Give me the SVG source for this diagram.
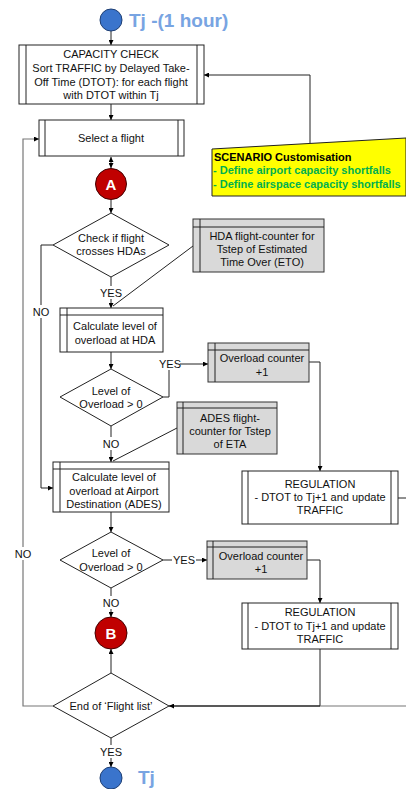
<svg xmlns="http://www.w3.org/2000/svg" width="406" height="789" viewBox="0 0 406 789">
<defs>
<marker id="ah" viewBox="0 0 8 8" refX="8" refY="4" markerWidth="5" markerHeight="5" orient="auto-start-reverse" markerUnits="userSpaceOnUse"><path d="M0,0 L8,4 L0,8 z" fill="#000"/></marker>
<style>
.t{font-family:"Liberation Sans",Arial,sans-serif;font-size:11px;fill:#111;text-anchor:middle}
.box{fill:#fff;stroke:#222;stroke-width:1}
.gbox{fill:#d9d9d9;stroke:#333;stroke-width:1}
.ln{fill:none;stroke:#222;stroke-width:1}
.gl{fill:none;stroke:#777;stroke-width:1.2}
.dia{fill:#fff;stroke:#222;stroke-width:1}
.lbl{font-family:"Liberation Sans",Arial,sans-serif;font-size:11px;fill:#111;text-anchor:middle}
</style>
</defs>
<rect width="406" height="789" fill="#fff"/>

<g id="connectors">
<path class="ln" d="M111,31 V45" marker-end="url(#ah)"/>
<path class="ln" d="M111,104 V120" marker-end="url(#ah)"/>
<path class="ln" d="M111,157 V168" marker-start="url(#ah)" marker-end="url(#ah)"/>
<path class="ln" d="M111,200 V213" marker-end="url(#ah)"/>
<path class="ln" d="M111,277 V308" marker-end="url(#ah)"/>
<path class="ln" d="M193,246 L113,306"/>
<path class="ln" d="M111,352 V369" marker-end="url(#ah)"/>
<path class="ln" d="M163,397 H169 V370"/>
<path class="ln" d="M180,364 H208" marker-end="url(#ah)"/>
<path class="ln" d="M309,362 H320 V471" marker-end="url(#ah)"/>
<path class="ln" d="M111,426 V462" marker-end="url(#ah)"/>
<path class="ln" d="M177,428 L113,461"/>
<path class="ln" d="M53,245 H41 V488 H53" marker-end="url(#ah)"/>
<path class="ln" d="M111,512 V532" marker-end="url(#ah)"/>
<path class="ln" d="M163,560 H172"/>
<path class="ln" d="M196,560 H207" marker-end="url(#ah)"/>
<path class="ln" d="M307,560 H320 V603" marker-end="url(#ah)"/>
<path class="ln" d="M398,498 H406"/>
<path class="ln" d="M111,588 V617" marker-end="url(#ah)"/>
<path class="ln" d="M111,673 V649" marker-end="url(#ah)"/>
<path class="ln" d="M320,649 V706"/>
<path class="gl" d="M406,706 H320"/>
<path style="fill:none;stroke:#222;stroke-width:1.4" d="M320,706 H169" marker-end="url(#ah)"/>
<path class="gl" d="M53,706 H23 V139 H39" marker-end="url(#ah)"/>
<path class="ln" d="M111,738 V767" marker-end="url(#ah)"/>
<path class="ln" d="M310,143 V75 H204" marker-end="url(#ah)"/>
<rect x="162" y="357" width="16" height="13" fill="#fff"/>
<text class="lbl" x="170" y="368">YES</text>
<rect x="172" y="553" width="24" height="13" fill="#fff"/>
<text class="lbl" x="184" y="564">YES</text>
<rect x="100" y="286" width="22" height="13" fill="#fff"/>
<text class="lbl" x="111" y="297">YES</text>
<rect x="102" y="437" width="18" height="13" fill="#fff"/>
<text class="lbl" x="111" y="448">NO</text>
<rect x="102" y="596" width="18" height="13" fill="#fff"/>
<text class="lbl" x="111" y="607">NO</text>
<rect x="100" y="745" width="22" height="13" fill="#fff"/>
<text class="lbl" x="111" y="756">YES</text>
<rect x="32" y="305" width="18" height="13" fill="#fff"/>
<text class="lbl" x="41" y="316">NO</text>
<rect x="14" y="547" width="18" height="13" fill="#fff"/>
<text class="lbl" x="23" y="558">NO</text>
</g>

<g id="start">
<circle cx="111" cy="20" r="11" fill="#3a74cc" stroke="#1f3f73" stroke-width="1"/>
<text x="129" y="27" style="font-family:'Liberation Sans',Arial,sans-serif;font-size:19px;font-weight:bold;fill:#78a4e2">Tj -(1 hour)</text>
</g>

<g id="capacity-check">
<rect class="box" x="19" y="45" width="185" height="59"/>
<path class="ln" d="M26,45 V104 M197,45 V104"/>
<text class="t" x="111" y="58">CAPACITY CHECK</text>
<text class="t" x="111" y="72">Sort TRAFFIC by Delayed Take-</text>
<text class="t" x="111" y="86">Off Time (DTOT): for each flight</text>
<text class="t" x="111" y="99">with DTOT within Tj</text>
</g>

<g id="scenario">
<path d="M212,149 L406,138 V196 H212 Z" fill="#ffff00" stroke="#222" stroke-width="1"/>
<text x="214" y="161" style="font-family:'Liberation Sans',Arial,sans-serif;font-size:11px;font-weight:bold;fill:#000">SCENARIO Customisation</text>
<text x="213" y="174" style="font-family:'Liberation Sans',Arial,sans-serif;font-size:11px;font-weight:bold;fill:#00b050">- Define airport capacity shortfalls</text>
<text x="213" y="188" style="font-family:'Liberation Sans',Arial,sans-serif;font-size:11px;font-weight:bold;fill:#00b050">- Define airspace capacity shortfalls</text>
</g>

<g id="select-flight">
<rect class="box" x="39" y="120" width="145" height="36"/>
<path class="ln" d="M45,120 V156 M178,120 V156"/>
<text class="t" x="111" y="142">Select a flight</text>
</g>

<g id="connector-a">
<circle cx="111" cy="184" r="15.5" fill="#c00000" stroke="#400" stroke-width="1"/>
<text x="111" y="190" style="font-family:'Liberation Sans',Arial,sans-serif;font-size:15px;font-weight:bold;fill:#fff;text-anchor:middle">A</text>
</g>

<g id="check-hda">
<path class="dia" d="M111,213 L169,245 L111,277 L53,245 Z"/>
<text class="t" x="111" y="242">Check if flight</text>
<text class="t" x="111" y="255">crosses HDAs</text>
</g>

<g id="hda-counter">
<rect class="gbox" x="193" y="219" width="131" height="53"/>
<path class="ln" d="M193,227 H324 M200,219 V272"/>
<text class="t" x="262" y="240">HDA flight-counter for</text>
<text class="t" x="262" y="253">Tstep of Estimated</text>
<text class="t" x="262" y="266">Time Over (ETO)</text>
</g>

<g id="calc-hda">
<rect class="box" x="60" y="308" width="103" height="44"/>
<path class="ln" d="M60,315 H163 M67,308 V352"/>
<text class="t" x="115" y="330">Calculate level of</text>
<text class="t" x="115" y="344">overload at HDA</text>
</g>

<g id="overload-hda">
<path class="dia" d="M111,369 L163,397 L111,426 L60,397 Z"/>
<text class="t" x="111" y="395">Level of</text>
<text class="t" x="111" y="408">Overload &gt; 0</text>
</g>

<g id="overload-counter-1">
<rect class="gbox" x="208" y="343" width="101" height="39"/>
<path class="ln" d="M208,350 H309 M215,343 V382"/>
<text class="t" x="262" y="362">Overload counter</text>
<text class="t" x="262" y="376">+1</text>
</g>

<g id="ades-counter">
<rect class="gbox" x="177" y="402" width="100" height="52"/>
<path class="ln" d="M177,408 H277 M183,402 V454"/>
<text class="t" x="230" y="422">ADES flight-</text>
<text class="t" x="230" y="435">counter for Tstep</text>
<text class="t" x="230" y="448">of ETA</text>
</g>

<g id="calc-ades">
<rect class="box" x="53" y="462" width="116" height="50"/>
<path class="ln" d="M53,469 H169 M60,462 V512"/>
<text class="t" x="114" y="481">Calculate level of</text>
<text class="t" x="114" y="495">overload at Airport</text>
<text class="t" x="114" y="508">Destination (ADES)</text>
</g>

<g id="regulation-1">
<rect class="box" x="242" y="471" width="156" height="53"/>
<path class="ln" d="M248,471 V524 M391,471 V524"/>
<text class="t" x="320" y="488">REGULATION</text>
<text class="t" x="320" y="501">- DTOT to Tj+1 and update</text>
<text class="t" x="320" y="514">TRAFFIC</text>
</g>

<g id="overload-ades">
<path class="dia" d="M111,532 L163,560 L111,588 L60,560 Z"/>
<text class="t" x="111" y="557">Level of</text>
<text class="t" x="111" y="571">Overload &gt; 0</text>
</g>

<g id="overload-counter-2">
<rect class="gbox" x="207" y="541" width="100" height="38"/>
<path class="ln" d="M207,547 H307 M213,541 V579"/>
<text class="t" x="261" y="560">Overload counter</text>
<text class="t" x="261" y="573">+1</text>
</g>

<g id="regulation-2">
<rect class="box" x="242" y="603" width="156" height="46"/>
<path class="ln" d="M248,603 V649 M391,603 V649"/>
<text class="t" x="320" y="616">REGULATION</text>
<text class="t" x="320" y="630">- DTOT to Tj+1 and update</text>
<text class="t" x="320" y="643">TRAFFIC</text>
</g>

<g id="connector-b">
<circle cx="111" cy="633" r="16" fill="#c00000" stroke="#400" stroke-width="1"/>
<text x="111" y="639" style="font-family:'Liberation Sans',Arial,sans-serif;font-size:15px;font-weight:bold;fill:#fff;text-anchor:middle">B</text>
</g>

<g id="end-flight-list">
<path class="dia" d="M111,673 L169,706 L111,738 L53,706 Z"/>
<text class="t" x="111" y="710">End of ‘Flight list’</text>
</g>

<g id="end">
<circle cx="111" cy="778" r="11" fill="#3a74cc" stroke="#1f3f73" stroke-width="1"/>
<text x="138" y="784" style="font-family:'Liberation Sans',Arial,sans-serif;font-size:19px;font-weight:bold;fill:#78a4e2">Tj</text>
</g>
</svg>
